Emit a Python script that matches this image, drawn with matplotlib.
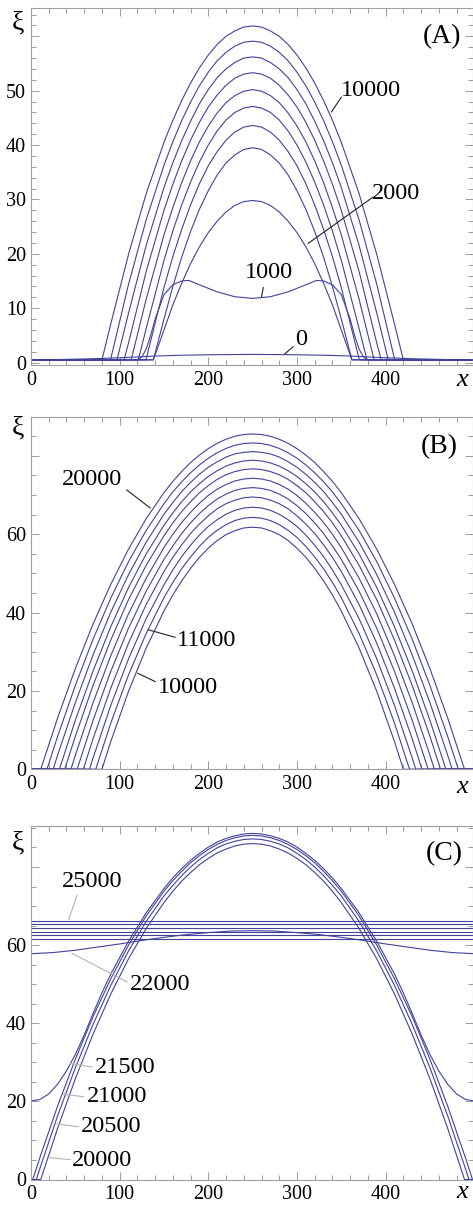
import numpy as np
import matplotlib.pyplot as plt

plt.rcParams['font.family'] = ['Liberation Serif', 'DejaVu Serif']

CENTRE = 250   # every profile is symmetric about x = 250
# distances from the centre at which the profile values below were read
GRID = [0, 10, 20, 30, 40, 50, 60, 70, 80, 90, 100, 120, 140, 160, 180, 200, 220, 240]

# ---------------- (A)  t = 0 ... 10000 ----------------
a_floor = 0.5
a_times = [2000, 3000, 4000, 5000, 6000, 7000, 8000, 9000, 10000]
a_feet = [112, 112, 121, 129, 137, 145, 153, 161, 170]   # half width of the pile
a_xi = [
    [29.8, 29.6, 28.9, 27.7, 26.0, 23.9, 21.3, 18.2, 14.6, 10.6, 6.0],
    [39.5, 39.2, 38.2, 36.7, 34.5, 31.6, 28.2, 24.1, 19.4, 14.0, 8.0],
    [43.6, 43.3, 42.4, 40.9, 38.8, 36.2, 32.9, 29.0, 24.5, 19.5, 13.8, 0.7],
    [47.1, 46.8, 46.0, 44.6, 42.6, 40.0, 36.9, 33.2, 29.0, 24.2, 18.8, 6.3],
    [50.2, 49.9, 49.1, 47.8, 45.9, 43.5, 40.6, 37.1, 33.1, 28.5, 23.5, 11.7],
    [53.3, 53.05, 52.3, 51.0, 49.2, 47.0, 44.2, 40.9, 37.1, 32.8, 28.0, 16.8, 3.6],
    [56.2, 56.0, 55.2, 54.0, 52.4, 50.2, 47.6, 44.4, 40.8, 36.75, 32.2, 21.6, 9.1],
    [59.1, 58.9, 58.2, 57.05, 55.5, 53.4, 50.9, 47.9, 44.5, 40.6, 36.3, 26.3, 14.4, 0.7],
    [61.9, 61.7, 61.0, 60.0, 58.5, 56.55, 54.2, 51.4, 48.2, 44.55, 40.5, 31.1, 19.9, 7.1],
]
a1000_d = [0, 20, 40, 60, 72, 80, 90, 100, 110, 115, 120, 125, 130, 250]
a1000_xi = [11.8, 12.1, 13.0, 14.3, 15.1, 15.0, 14.3, 12.5, 8.0, 5.0, 2.5, 1.0, 0.5, 0.5]
a0_d = [0, 40, 80, 110, 140, 180, 220, 250]
a0_xi = [1.5, 1.45, 1.35, 1.2, 0.95, 0.7, 0.55, 0.5]

# ---------------- (B)  t = 10000 ... 20000 ----------------
b_times = [10000, 11000, 12000, 13000, 14000, 15000, 16000, 17000, 18000, 19000, 20000]
b_feet = [170, 177, 184, 191, 198, 205, 212, 218, 225, 232, 239]
b_xi = [
    [61.8, 61.6, 60.9, 59.9, 58.4, 56.45, 54.1, 51.3, 48.1, 44.5, 40.4, 31.0, 19.9, 7.1],
    [64.3, 64.1, 63.5, 62.45, 61.0, 59.2, 56.9, 54.2, 51.2, 47.7, 43.8, 34.7, 24.1, 11.8],
    [66.9, 66.7, 66.1, 65.1, 63.7, 62.0, 59.8, 57.2, 54.3, 50.9, 47.1, 38.5, 28.2, 16.3, 2.9],
    [69.5, 69.3, 68.7, 67.8, 66.5, 64.7, 62.6, 60.2, 57.3, 54.1, 50.5, 42.1, 32.2, 20.7, 7.8],
    [71.9, 71.7, 71.2, 70.25, 69.0, 67.3, 65.3, 62.9, 60.2, 57.0, 53.6, 45.5, 36.0, 25.0, 12.5],
    [74.3, 74.1, 73.6, 72.7, 71.5, 69.9, 67.9, 65.6, 63.0, 60.0, 56.6, 48.8, 39.7, 29.0, 17.0, 3.6],
    [76.7, 76.5, 76.0, 75.2, 74.0, 72.4, 70.6, 68.3, 65.8, 62.9, 59.6, 52.1, 43.3, 33.0, 21.4, 8.4],
    [78.9, 78.7, 78.2, 77.4, 76.2, 74.75, 72.9, 70.8, 68.3, 65.45, 62.3, 55.0, 46.4, 36.4, 25.1, 12.5],
    [81.1, 80.9, 80.5, 79.7, 78.5, 77.1, 75.3, 73.25, 70.9, 68.1, 65.1, 58.0, 49.7, 40.1, 29.2, 17.0, 3.6],
    [83.3, 83.15, 82.7, 81.9, 80.8, 79.4, 77.7, 75.7, 73.4, 70.8, 67.8, 61.0, 53.0, 43.7, 33.2, 21.4, 8.4],
    [85.6, 85.45, 85.0, 84.25, 83.2, 81.85, 80.2, 78.3, 76.0, 73.5, 70.6, 64.0, 56.2, 47.2, 37.1, 25.7, 13.1],
]

# ---------------- (C)  t = 20000 ... 25000 ----------------
c_times = [20000, 20500, 21000]
c_feet = [239, 244, 248]
c_xi = [
    [86.0, 85.85, 85.4, 84.6, 83.6, 82.2, 80.6, 78.6, 76.4, 73.8, 70.9, 64.3, 56.5, 47.5, 37.2, 25.8, 13.1],
    [87.2, 87.05, 86.6, 85.9, 84.9, 83.5, 81.9, 80.0, 77.8, 75.3, 72.6, 66.1, 58.5, 49.7, 39.7, 28.6, 16.3, 2.8],
    [88.1, 87.96, 87.5, 86.8, 85.8, 84.5, 82.9, 81.1, 78.9, 76.5, 73.8, 67.5, 60.0, 51.4, 41.7, 30.8, 18.8, 5.6],
]
c21500_d = [0, 10, 20, 30, 40, 50, 60, 70, 80, 90, 100, 120, 140, 160, 170, 180,
            190, 200, 210, 220, 230, 240, 250]
c21500_xi = [88.6, 88.46, 88.0, 87.33, 86.4, 85.1, 83.5, 81.7, 79.6, 77.2, 74.5, 68.3,
             61.0, 52.6, 47.8, 42.5, 37.0, 32.0, 27.8, 24.4, 21.9, 20.5, 20.1]
c22000_d = [0, 25, 50, 75, 100, 125, 150, 175, 200, 225, 250]
c22000_xi = [63.7, 63.6, 63.2, 62.7, 62.0, 61.2, 60.3, 59.5, 58.7, 58.1, 57.8]
c_flat_times = [22500, 23000, 23500, 24000, 24500, 25000]
c_flat_xi = [61.5, 62.5, 63.4, 64.4, 65.3, 66.2]

LINE = '#42429c'
FRAME = '#a0a0a0'


def mirror(d, xi):
    d = np.asarray(d, float)
    xi = np.asarray(xi, float)
    x = np.concatenate([CENTRE - d[::-1], CENTRE + d[1:]])
    y = np.concatenate([xi[::-1], xi[1:]])
    return x, y


def pile(vals, foot, floor):
    d = GRID[:len(vals)] + [foot, CENTRE]
    return mirror(d, list(vals) + [floor, floor])


def frame(ax, ylim, ymajor, yminor, ytop):
    ax.set_xlim(0, 498)
    ax.set_ylim(*ylim)
    ax.set_xticks(range(0, 401, 100))
    ax.set_xticks(range(0, 500, 20), minor=True)
    yt = list(range(0, ytop + 1, ymajor))
    ax.set_yticks(yt, labels=[str(v) if v < ytop else '' for v in yt])
    ax.set_yticks(np.arange(0, ylim[1], yminor), minor=True)
    ax.tick_params(which='both', direction='in', top=True, right=True,
                   color='#8c8c8c', width=0.6, labelsize=14.5)
    ax.tick_params(which='major', length=6)
    ax.tick_params(which='minor', length=3.5)
    ax.tick_params(axis='x', pad=4)
    ax.tick_params(axis='y', pad=3.5)
    for s in ax.spines.values():
        s.set_color(FRAME)
        s.set_linewidth(0.8)


def tag(ax, text, tip, end, pos, color='#222222', ha='center'):
    ax.plot([tip[0], end[0]], [tip[1], end[1]], color=color, lw=0.8)
    ax.text(pos[0], pos[1], text, fontsize=17.5, ha=ha, va='center')


fig = plt.figure(figsize=(4.73, 12.05), dpi=100)
W, H = 473, 1205
left, width = 31 / W, 441.5 / W
axA = fig.add_axes([left, 1 - 365 / H, width, 357 / H])
axB = fig.add_axes([left, 1 - 769.3 / H, width, 352.6 / H])
axC = fig.add_axes([left, 1 - 1179.5 / H, width, 353.5 / H])

# (A)
x, y = mirror(a0_d, a0_xi)
axA.plot(x, y, color=LINE, lw=0.8)
x, y = mirror(a1000_d, a1000_xi)
axA.plot(x, y, color=LINE, lw=0.8)
for vals, foot in zip(a_xi, a_feet):
    x, y = pile(vals, foot, a_floor)
    axA.plot(x, y, color=LINE, lw=0.8)
frame(axA, (-0.45, 65.2), 10, 2, 60)
tag(axA, '10000', (339, 46.1), (350, 48.8), (349, 50.1), ha='left')
tag(axA, '2000', (312.5, 21.9), (385.6, 30.4), (385, 31.1), ha='left')
tag(axA, '1000', (260, 12.1), (262, 13.8), (268.6, 16.6))
tag(axA, '0', (286.3, 1.6), (295.6, 2.9), (305, 4.3))
axA.text(464, 59.9, '(A)', fontsize=20, ha='center', va='center')

# (B)
for vals, foot in zip(b_xi, b_feet):
    x, y = pile(vals, foot, 0)
    axB.plot(x, y, color=LINE, lw=0.8)
frame(axB, (0, 90), 20, 5, 80)
tag(axB, '20000', (134.4, 66.7), (108, 71.3), (68.8, 73.9))
tag(axB, '11000', (132.5, 35.6), (162.5, 33.7), (198, 32.8))
tag(axB, '10000', (120.6, 24.5), (140, 22.4), (177.5, 20.9))
axB.text(460, 82.4, '(B)', fontsize=20, ha='center', va='center')

# (C)
for vals, foot in zip(c_xi, c_feet):
    x, y = pile(vals, foot, 0)
    axC.plot(x, y, color=LINE, lw=0.8)
x, y = mirror(c21500_d, c21500_xi)
axC.plot(x, y, color=LINE, lw=0.8)
x, y = mirror(c22000_d, c22000_xi)
axC.plot(x, y, color=LINE, lw=0.8)
for v in c_flat_xi:
    axC.axhline(v, color=LINE, lw=0.8)
frame(axC, (0, 90.5), 20, 5, 80)
grey = '#b4b4b4'
tag(axC, '25000', (42.5, 66.6), (52, 72.8), (68.8, 76.2), grey)
tag(axC, '22000', (46.3, 57.9), (108.2, 50.6), (145.7, 50.0), grey)
tag(axC, '21500', (44.4, 29.7), (68.8, 28.8), (106.3, 28.8), grey)
tag(axC, '21000', (36.9, 21.8), (59.4, 21.2), (97.6, 21.2), grey)
tag(axC, '20500', (29.5, 14.2), (53.8, 13.5), (90.2, 13.5), grey)
tag(axC, '20000', (20, 5.6), (44.4, 5.1), (80.1, 4.9), grey)
axC.text(466, 83.5, '(C)', fontsize=20, ha='center', va='center')

# axis names
for yx in [23.3, 428.3, 843.3]:
    fig.text(17.5 / W, 1 - yx / H, 'ξ', fontsize=20, ha='center', va='center')
for yx in [380, 786.7, 1192]:
    fig.text(462 / W, 1 - yx / H, 'x', fontsize=19, style='italic', ha='center', va='center')

fig.savefig('out.png', dpi=100)
